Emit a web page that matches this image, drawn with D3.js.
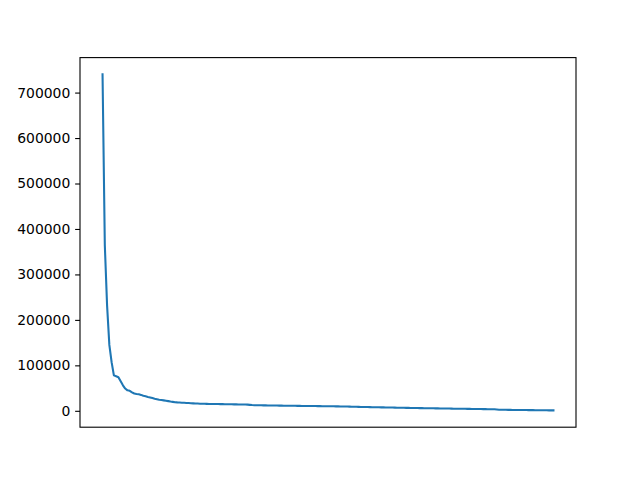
<!DOCTYPE html>
<html>
<head>
<meta charset="utf-8">
<script src="https://cdn.jsdelivr.net/npm/d3@7"></script>
<style>
  body { margin: 0; background: #fff; }
  svg { display: block; }
  .tick text { font-family: "DejaVu Sans", sans-serif; font-size: 13.9px; fill: #000; }
</style>
</head>
<body>
<div id="chart"></div>
<script>
// values sorted descending, one per index
var counts = [
  740000, 365000, 232000, 145000, 107000, 78000, 76000, 74000, 65000, 56000,
  49000, 45000, 44000, 40500, 38000, 37000, 36500, 35000, 33000, 32000,
  30500, 29500, 28000, 26500, 25500, 24500, 23800, 23000, 22200, 21300,
  20300, 19600, 19000, 18500, 18200, 17900, 17600, 17300, 17000, 16700,
  16400, 16100, 15900, 15700, 15500, 15350, 15200, 15100, 15000, 14900,
  14850, 14800, 14750, 14700, 14600, 14500, 14400, 14300, 14200, 14100,
  14000, 13900, 13800, 13700, 13600, 13100, 12600, 12400, 12300, 12200,
  12100, 12000, 11900, 11800, 11750, 11700, 11600, 11500, 11450, 11400,
  11300, 11200, 11150, 11100, 11000, 10950, 10900, 10800, 10750, 10700,
  10650, 10600, 10500, 10450, 10400, 10300, 10250, 10200, 10100, 10050,
  10000, 9900, 9850, 9800, 9700, 9600, 9500, 9400, 9300, 9200,
  9100, 9000, 8800, 8650, 8500, 8400, 8300, 8200, 8100, 8000,
  7900, 7800, 7700, 7600, 7500, 7400, 7300, 7200, 7100, 7000,
  6900, 6800, 6700, 6600, 6500, 6400, 6300, 6200, 6100, 6000,
  5950, 5900, 5800, 5700, 5600, 5500, 5450, 5400, 5300, 5200,
  5100, 5000, 4950, 4900, 4800, 4700, 4650, 4600, 4500, 4400,
  4350, 4300, 4200, 4100, 4050, 4000, 3900, 3800, 3700, 3650,
  3600, 3500, 3400, 3300, 2800, 2400, 2300, 2200, 2150, 2100,
  2000, 1950, 1900, 1850, 1800, 1700, 1650, 1600, 1550, 1500,
  1450, 1400, 1300, 1250, 1200, 1150, 1100, 1000, 950, 900
];
var yTicks = [0, 100000, 200000, 300000, 400000, 500000, 600000, 700000];

var W = 640, H = 480;
var m = {top: 57.6, right: 64, bottom: 52.8, left: 80};
var w = W - m.left - m.right,
    h = H - m.top - m.bottom;

var svg = d3.select('#chart').append('svg')
  .attr('width', W)
  .attr('height', H);
var g = svg.append('g')
  .attr('transform', 'translate(' + m.left + ',' + m.top + ')');

// matplotlib style 5% margins
var n = counts.length;
var xPad = (n - 1) * 0.05;
var yMin = d3.min(counts), yMax = d3.max(counts);
var yPad = (yMax - yMin) * 0.05;

var x = d3.scaleLinear().domain([-xPad, n - 1 + xPad]).range([0, w]);
var y = d3.scaleLinear().domain([yMin - yPad, yMax + yPad]).range([h, 0]);

var yAxis = d3.axisLeft(y)
  .tickValues(yTicks)
  .tickFormat(d3.format('d'))
  .tickSize(4.86)
  .tickPadding(4.86);

var ya = g.append('g').call(yAxis);
ya.select('.domain').remove();
ya.selectAll('.tick line').attr('stroke', '#000').attr('stroke-width', 1.1);

var line = d3.line()
  .x(function(d, i) { return x(i); })
  .y(function(d) { return y(d); });

g.append('path')
  .datum(counts)
  .attr('fill', 'none')
  .attr('stroke', '#1f77b4')
  .attr('stroke-width', 2.08)
  .attr('stroke-linejoin', 'round')
  .attr('stroke-linecap', 'square')
  .attr('d', line);

// frame
g.append('rect')
  .attr('x', 0)
  .attr('y', 0)
  .attr('width', w)
  .attr('height', h)
  .attr('fill', 'none')
  .attr('stroke', '#000')
  .attr('stroke-width', 1.1);
</script>
</body>
</html>
